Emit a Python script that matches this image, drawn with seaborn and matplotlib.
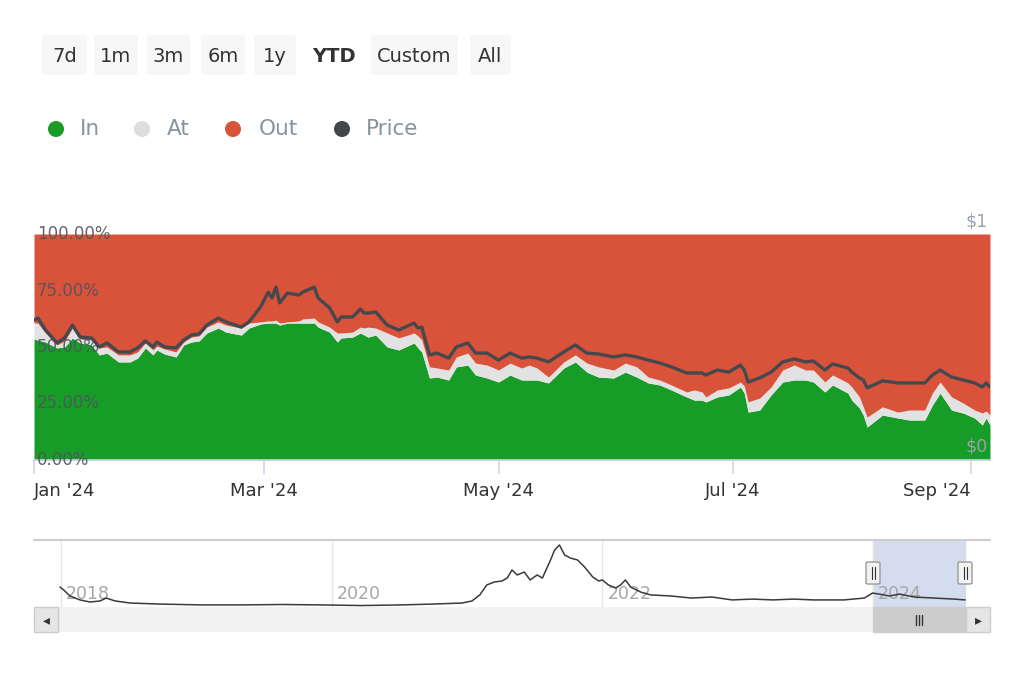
import matplotlib
matplotlib.use("Agg")
import matplotlib.pyplot as plt
import matplotlib.transforms as mtransforms
from matplotlib.patches import FancyBboxPatch, Rectangle, Ellipse
from matplotlib.lines import Line2D
import seaborn as sns
import pandas as pd

# ---------------- data ----------------
dates = ["2024-01-01","2024-01-02","2024-01-04","2024-01-07","2024-01-09","2024-01-11","2024-01-13","2024-01-16","2024-01-18","2024-01-20",
"2024-01-23","2024-01-26","2024-01-28","2024-01-30","2024-02-01","2024-02-02","2024-02-04","2024-02-07","2024-02-09","2024-02-11",
"2024-02-13","2024-02-15","2024-02-18","2024-02-20","2024-02-24","2024-02-26","2024-02-29","2024-03-02","2024-03-03","2024-03-04",
"2024-03-05","2024-03-07","2024-03-10","2024-03-11","2024-03-14","2024-03-15","2024-03-18","2024-03-20","2024-03-21","2024-03-24",
"2024-03-26","2024-03-27","2024-03-28","2024-03-30","2024-04-02","2024-04-05","2024-04-09","2024-04-10","2024-04-11","2024-04-13",
"2024-04-15","2024-04-18","2024-04-20","2024-04-23","2024-04-25","2024-04-28","2024-05-01","2024-05-04","2024-05-07","2024-05-09",
"2024-05-11","2024-05-14","2024-05-18","2024-05-21","2024-05-24","2024-05-27","2024-05-31","2024-06-03","2024-06-06","2024-06-09",
"2024-06-12","2024-06-15","2024-06-19","2024-06-21","2024-06-23","2024-06-24","2024-06-27","2024-06-30","2024-07-03","2024-07-04",
"2024-07-05","2024-07-08","2024-07-11","2024-07-14","2024-07-17","2024-07-20","2024-07-22","2024-07-25","2024-07-27","2024-07-31",
"2024-08-01","2024-08-03","2024-08-04","2024-08-05","2024-08-09","2024-08-13","2024-08-16","2024-08-20","2024-08-22","2024-08-24",
"2024-08-27","2024-08-30","2024-09-02","2024-09-04","2024-09-05","2024-09-06"]

in_pct = [53.5,53.1,52.2,49.6,50.0,54.0,51.8,50.9,46.5,47.3,
43.4,43.4,45.1,49.6,46.5,48.7,46.9,45.6,50.9,52.2,
52.7,56.2,58.4,56.6,55.3,58.4,60.2,60.6,60.6,60.6,
59.7,60.6,60.6,60.6,60.6,58.8,56.6,52.2,54.0,54.4,
56.2,55.3,54.4,55.3,50.0,48.7,51.8,49.6,47.8,36.3,
36.7,35.4,41.2,42.0,37.6,36.3,34.5,37.6,35.4,35.4,
35.4,34.1,40.7,43.4,38.9,36.7,36.3,38.9,36.7,34.1,
33.2,31.0,27.9,26.5,26.5,25.7,27.9,28.8,32.3,29.6,
21.2,22.1,28.8,34.5,35.4,35.4,34.5,30.1,33.2,29.6,
26.5,23.0,19.9,14.6,19.9,18.6,17.7,17.7,24.3,29.6,
22.1,20.8,18.6,15.5,18.6,15.5]

at_pct = [7.1,7.5,4.0,1.3,2.7,4.4,1.7,2.2,3.1,2.7,
3.1,3.1,2.7,2.2,2.2,1.7,2.2,2.2,1.3,2.2,
2.2,2.6,2.7,3.1,3.1,2.2,0.9,0.9,0.9,1.3,
0.9,0.5,0.9,1.8,2.2,2.3,2.2,4.0,2.2,2.2,
2.6,3.1,4.4,3.1,6.2,5.3,4.4,5.3,5.3,4.9,
4.0,4.4,4.4,5.3,5.3,5.7,5.3,5.3,5.3,6.6,
5.3,2.6,2.7,3.1,4.0,4.5,3.5,4.0,4.5,2.6,
2.2,2.2,2.2,4.5,3.6,2.2,3.1,3.1,2.2,3.1,
4.5,5.3,3.5,5.3,6.6,4.4,5.3,4.4,4.4,4.5,
5.8,4.9,3.6,4.4,3.6,2.6,4.4,4.4,5.3,4.9,
5.8,4.4,3.5,5.3,3.1,4.4]

out_pct = [39.4,39.4,43.8,49.1,47.3,41.6,46.5,46.9,50.4,50.0,
53.5,53.5,52.2,48.2,51.3,49.6,50.9,52.2,47.8,45.6,
45.1,41.2,38.9,40.3,41.6,39.4,38.9,38.5,38.5,38.1,
39.4,38.9,38.5,37.6,37.2,38.9,41.2,43.8,43.8,43.4,
41.2,41.6,41.2,41.6,43.8,46.0,43.8,45.1,46.9,58.8,
59.3,60.2,54.4,52.7,57.1,58.0,60.2,57.1,59.3,58.0,
59.3,63.3,56.6,53.5,57.1,58.8,60.2,57.1,58.8,63.3,
64.6,66.8,69.9,69.0,69.9,72.1,69.0,68.1,65.5,67.3,
74.3,72.6,67.7,60.2,58.0,60.2,60.2,65.5,62.4,65.9,
67.7,72.1,76.5,81.0,76.5,78.8,77.9,77.9,70.4,65.5,
72.1,74.8,77.9,79.2,78.3,80.1]

price = [0.619,0.628,0.575,0.518,0.540,0.597,0.544,0.540,0.500,0.518,
0.478,0.478,0.496,0.527,0.500,0.522,0.500,0.496,0.531,0.553,
0.558,0.597,0.628,0.611,0.588,0.611,0.677,0.743,0.717,0.765,
0.695,0.739,0.730,0.743,0.765,0.717,0.673,0.611,0.633,0.633,
0.668,0.650,0.650,0.655,0.597,0.575,0.606,0.584,0.588,0.465,
0.473,0.451,0.500,0.518,0.473,0.473,0.442,0.473,0.451,0.456,
0.451,0.434,0.478,0.509,0.473,0.469,0.456,0.465,0.456,0.442,
0.429,0.412,0.385,0.385,0.385,0.376,0.398,0.389,0.420,0.398,
0.345,0.363,0.389,0.434,0.447,0.434,0.438,0.398,0.425,0.407,
0.389,0.363,0.354,0.319,0.350,0.341,0.341,0.341,0.376,0.398,
0.367,0.354,0.341,0.323,0.341,0.323]

nav_dates = ["2017-12-29","2018-01-08","2018-01-25","2018-02-21","2018-03-20","2018-04-16","2018-05-03","2018-05-27","2018-07-07","2018-09-27",
"2019-01-15","2019-05-03","2019-08-19","2019-12-05","2020-03-22","2020-07-08","2020-09-28","2020-12-18","2021-01-14","2021-02-04",
"2021-02-23","2021-03-15","2021-04-05","2021-04-19","2021-05-02","2021-05-16","2021-06-04","2021-06-20","2021-07-09","2021-07-23",
"2021-08-14","2021-08-25","2021-09-07","2021-09-21","2021-10-07","2021-10-26","2021-11-14","2021-12-06","2021-12-22","2022-01-01",
"2022-01-17","2022-02-06","2022-02-19","2022-03-04","2022-03-18","2022-04-14","2022-05-11","2022-07-05","2022-08-29","2022-10-23",
"2022-12-17","2023-02-10","2023-04-06","2023-05-31","2023-07-25","2023-10-15","2023-12-09","2023-12-31","2024-01-18","2024-02-14",
"2024-03-13","2024-04-21","2024-06-14","2024-08-07","2024-09-06"]
nav_price = [0.96,0.82,0.53,0.34,0.24,0.29,0.43,0.29,0.19,0.14,
0.10,0.10,0.12,0.10,0.07,0.10,0.14,0.19,0.29,0.58,
1.06,1.20,1.25,1.39,1.78,1.54,1.68,1.30,1.54,1.39,
2.26,2.74,2.98,2.50,2.35,2.26,1.92,1.44,1.25,1.30,
1.06,0.91,1.06,1.30,0.96,0.72,0.58,0.53,0.43,0.48,
0.34,0.38,0.34,0.38,0.34,0.34,0.43,0.67,0.62,0.53,
0.62,0.48,0.43,0.38,0.34]

buttons = ["7d", "1m", "3m", "6m", "1y", "YTD", "Custom", "All"]
series_names = ["In", "At", "Out", "Price"]
y_ticks = [0, 25, 50, 75, 100]
y_tick_labels = ["0.00%", "25.00%", "50.00%", "75.00%", "100.00%"]
x_ticks = ["2024-01-01", "2024-03-01", "2024-05-01", "2024-07-01", "2024-09-01"]
x_tick_labels = ["Jan '24", "Mar '24", "May '24", "Jul '24", "Sep '24"]
price_labels = ["$0", "$1"]
nav_years = ["2018-01-01", "2020-01-01", "2022-01-01", "2024-01-01"]
nav_year_labels = ["2018", "2020", "2022", "2024"]
nav_range = ["2017-10-20", "2024-11-12"]
selected = ["2024-01-01", "2024-09-06"]

# ---------------- style ----------------
GREEN = "#189c28"
GRAY = "#e2e2e2"
RED = "#d9533b"
PRICE = "#45484d"
AXIS = "#ccd6eb"

sns.set_style("white")
plt.rcParams["font.family"] = ["DejaVu Sans"]

W, H = 1024, 683
fig = plt.figure(figsize=(W / 100, H / 100), dpi=100)
fig.patch.set_facecolor("white")


def fx(x):
    return x / W


def fy(y):
    return 1 - y / H


df = pd.DataFrame({"date": pd.to_datetime(dates), "In": in_pct, "At": at_pct,
                   "Out": out_pct, "Price": price})

# ---------------- main chart ----------------
ax = fig.add_axes([fx(34), fy(460), fx(990) - fx(34), fy(234) - fy(460)])
ax.stackplot(df["date"], df["In"], df["At"], df["Out"],
             colors=[GREEN, GRAY, RED], linewidth=0)
ax.set_xlim(df["date"].iloc[0], df["date"].iloc[-1])
ax.set_ylim(0, 100)
for s in ["top", "left", "right"]:
    ax.spines[s].set_visible(False)
ax.spines["bottom"].set_color(AXIS)
ax.spines["bottom"].set_linewidth(1.2)
ax.set_yticks([])
ax.set_xticks(pd.to_datetime(x_ticks))
ax.set_xticklabels(x_tick_labels, fontsize=13, color="#333333")
ax.tick_params(axis="x", length=10, color=AXIS, width=1.2, pad=6, bottom=True)
labs = ax.get_xticklabels()
labs[0].set_ha("left")
labs[-1].set_ha("right")
ax.set_xlabel("")
ax.set_ylabel("")
ax.grid(False)

tr = mtransforms.blended_transform_factory(ax.transAxes, ax.transData)
for v, lab in zip(y_ticks, y_tick_labels):
    ax.text(0.003, v, lab, transform=tr, ha="left", va="center",
            fontsize=12, color="#4f555c", alpha=0.9, zorder=5)

ax2 = ax.twinx()
sns.lineplot(data=df, x="date", y="Price", ax=ax2, color=PRICE, linewidth=2.4)
ax2.set_ylim(0, 1)
ax2.set_yticks([])
ax2.set_ylabel("")
ax2.set_xlabel("")
for s in ax2.spines.values():
    s.set_visible(False)
off = mtransforms.offset_copy(ax2.transAxes, fig=fig, x=-2, y=4, units="dots")
ax2.text(1.0, 0.0, price_labels[0], transform=off, ha="right", va="bottom",
         fontsize=12.5, color="#9aa3ad")
ax2.text(1.0, 1.0, price_labels[1], transform=off, ha="right", va="bottom",
         fontsize=12.5, color="#9aa3ad")

# ---------------- navigator ----------------
nav = pd.DataFrame({"date": pd.to_datetime(nav_dates), "price": nav_price})
nax = fig.add_axes([fx(34), fy(607), fx(990) - fx(34), fy(540) - fy(607)])
nax.set_xlim(pd.to_datetime(nav_range[0]), pd.to_datetime(nav_range[1]))
nax.set_ylim(0, 3.22)
nax.axvspan(pd.to_datetime(selected[0]), pd.to_datetime(selected[1]),
            color="#d3ddef", zorder=0)
ntr = mtransforms.blended_transform_factory(nax.transData, nax.transAxes)
off2 = mtransforms.offset_copy(ntr, fig=fig, x=5, y=0, units="dots")
for d, lab in zip(nav_years, nav_year_labels):
    nax.axvline(pd.to_datetime(d), color="#e6e6e6", linewidth=1, zorder=0.5)
    nax.text(pd.to_datetime(d), 0.2, lab, transform=off2, ha="left", va="center",
             fontsize=12.5, color="#a6a6a6", zorder=1)
sns.lineplot(data=nav, x="date", y="price", ax=nax, color="#3a3a3a", linewidth=1.1)
nax.set_xticks([])
nax.set_yticks([])
nax.set_xlabel("")
nax.set_ylabel("")
for s in nax.spines.values():
    s.set_visible(False)
nax.patch.set_alpha(0)

# navigator top border
fig.add_artist(Line2D([fx(34), fx(990)], [fy(540), fy(540)], color="#cccccc",
                      linewidth=1.5, transform=fig.transFigure))

# handles
for hx in (873, 965):
    fig.add_artist(FancyBboxPatch((fx(hx - 7), fy(584)), fx(14), fy(562) - fy(584),
                                  boxstyle="round,pad=0,rounding_size=0.002",
                                  facecolor="#f2f2f2", edgecolor="#999999",
                                  linewidth=1, transform=fig.transFigure))
    for dx in (-1.5, 1.5):
        fig.add_artist(Line2D([fx(hx + dx), fx(hx + dx)], [fy(567), fy(579)],
                              color="#333333", linewidth=0.8, transform=fig.transFigure))

# scrollbar
fig.add_artist(Rectangle((fx(34), fy(632)), fx(956), fy(607) - fy(632),
                         facecolor="#f2f2f2", edgecolor="none", transform=fig.transFigure))
for bx in (34, 966):
    fig.add_artist(Rectangle((fx(bx), fy(632)), fx(24), fy(607) - fy(632),
                             facecolor="#e6e6e6", edgecolor="#cccccc", linewidth=1,
                             transform=fig.transFigure))
fig.text(fx(46), fy(620), "◂", ha="center", va="center", fontsize=10, color="#333333")
fig.text(fx(978), fy(620), "▸", ha="center", va="center", fontsize=10, color="#333333")
fig.add_artist(Rectangle((fx(873), fy(632)), fx(92), fy(607) - fy(632),
                         facecolor="#cccccc", edgecolor="#cccccc", transform=fig.transFigure))
for dx in (-3, 0, 3):
    fig.add_artist(Line2D([fx(919 + dx), fx(919 + dx)], [fy(615), fy(625)],
                          color="#333333", linewidth=1, transform=fig.transFigure))

# ---------------- range selector buttons ----------------
btn_pos = [(42, 87), (94, 138), (147, 190), (201, 245), (254, 296), (305, 362),
           (371, 458), (470, 511)]
for (x0, x1), lab in zip(btn_pos, buttons):
    active = lab == "YTD"
    if not active:
        fig.add_artist(FancyBboxPatch((fx(x0), fy(75)), fx(x1 - x0), fy(35) - fy(75),
                                      boxstyle="round,pad=0,rounding_size=0.003",
                                      facecolor="#f7f7f7", edgecolor="none",
                                      transform=fig.transFigure))
    fig.text(fx((x0 + x1) / 2), fy(56), lab, ha="center", va="center",
             fontsize=14, color="#333333", fontweight="bold" if active else "normal")

# ---------------- legend ----------------
leg_colors = [GREEN, "#dddddd", RED, "#43464b"]
leg_dot_x = [56, 142, 233, 342]
leg_txt_x = [80, 167, 259, 366]
for name, c, dxp, tx in zip(series_names, leg_colors, leg_dot_x, leg_txt_x):
    fig.add_artist(Ellipse((fx(dxp), fy(129)), width=16 / W, height=16 / H,
                           facecolor=c, edgecolor="none", transform=fig.transFigure))
    fig.text(fx(tx), fy(129), name, ha="left", va="center", fontsize=15.5,
             color="#8793a0")

fig.savefig("out.png", dpi=100)
